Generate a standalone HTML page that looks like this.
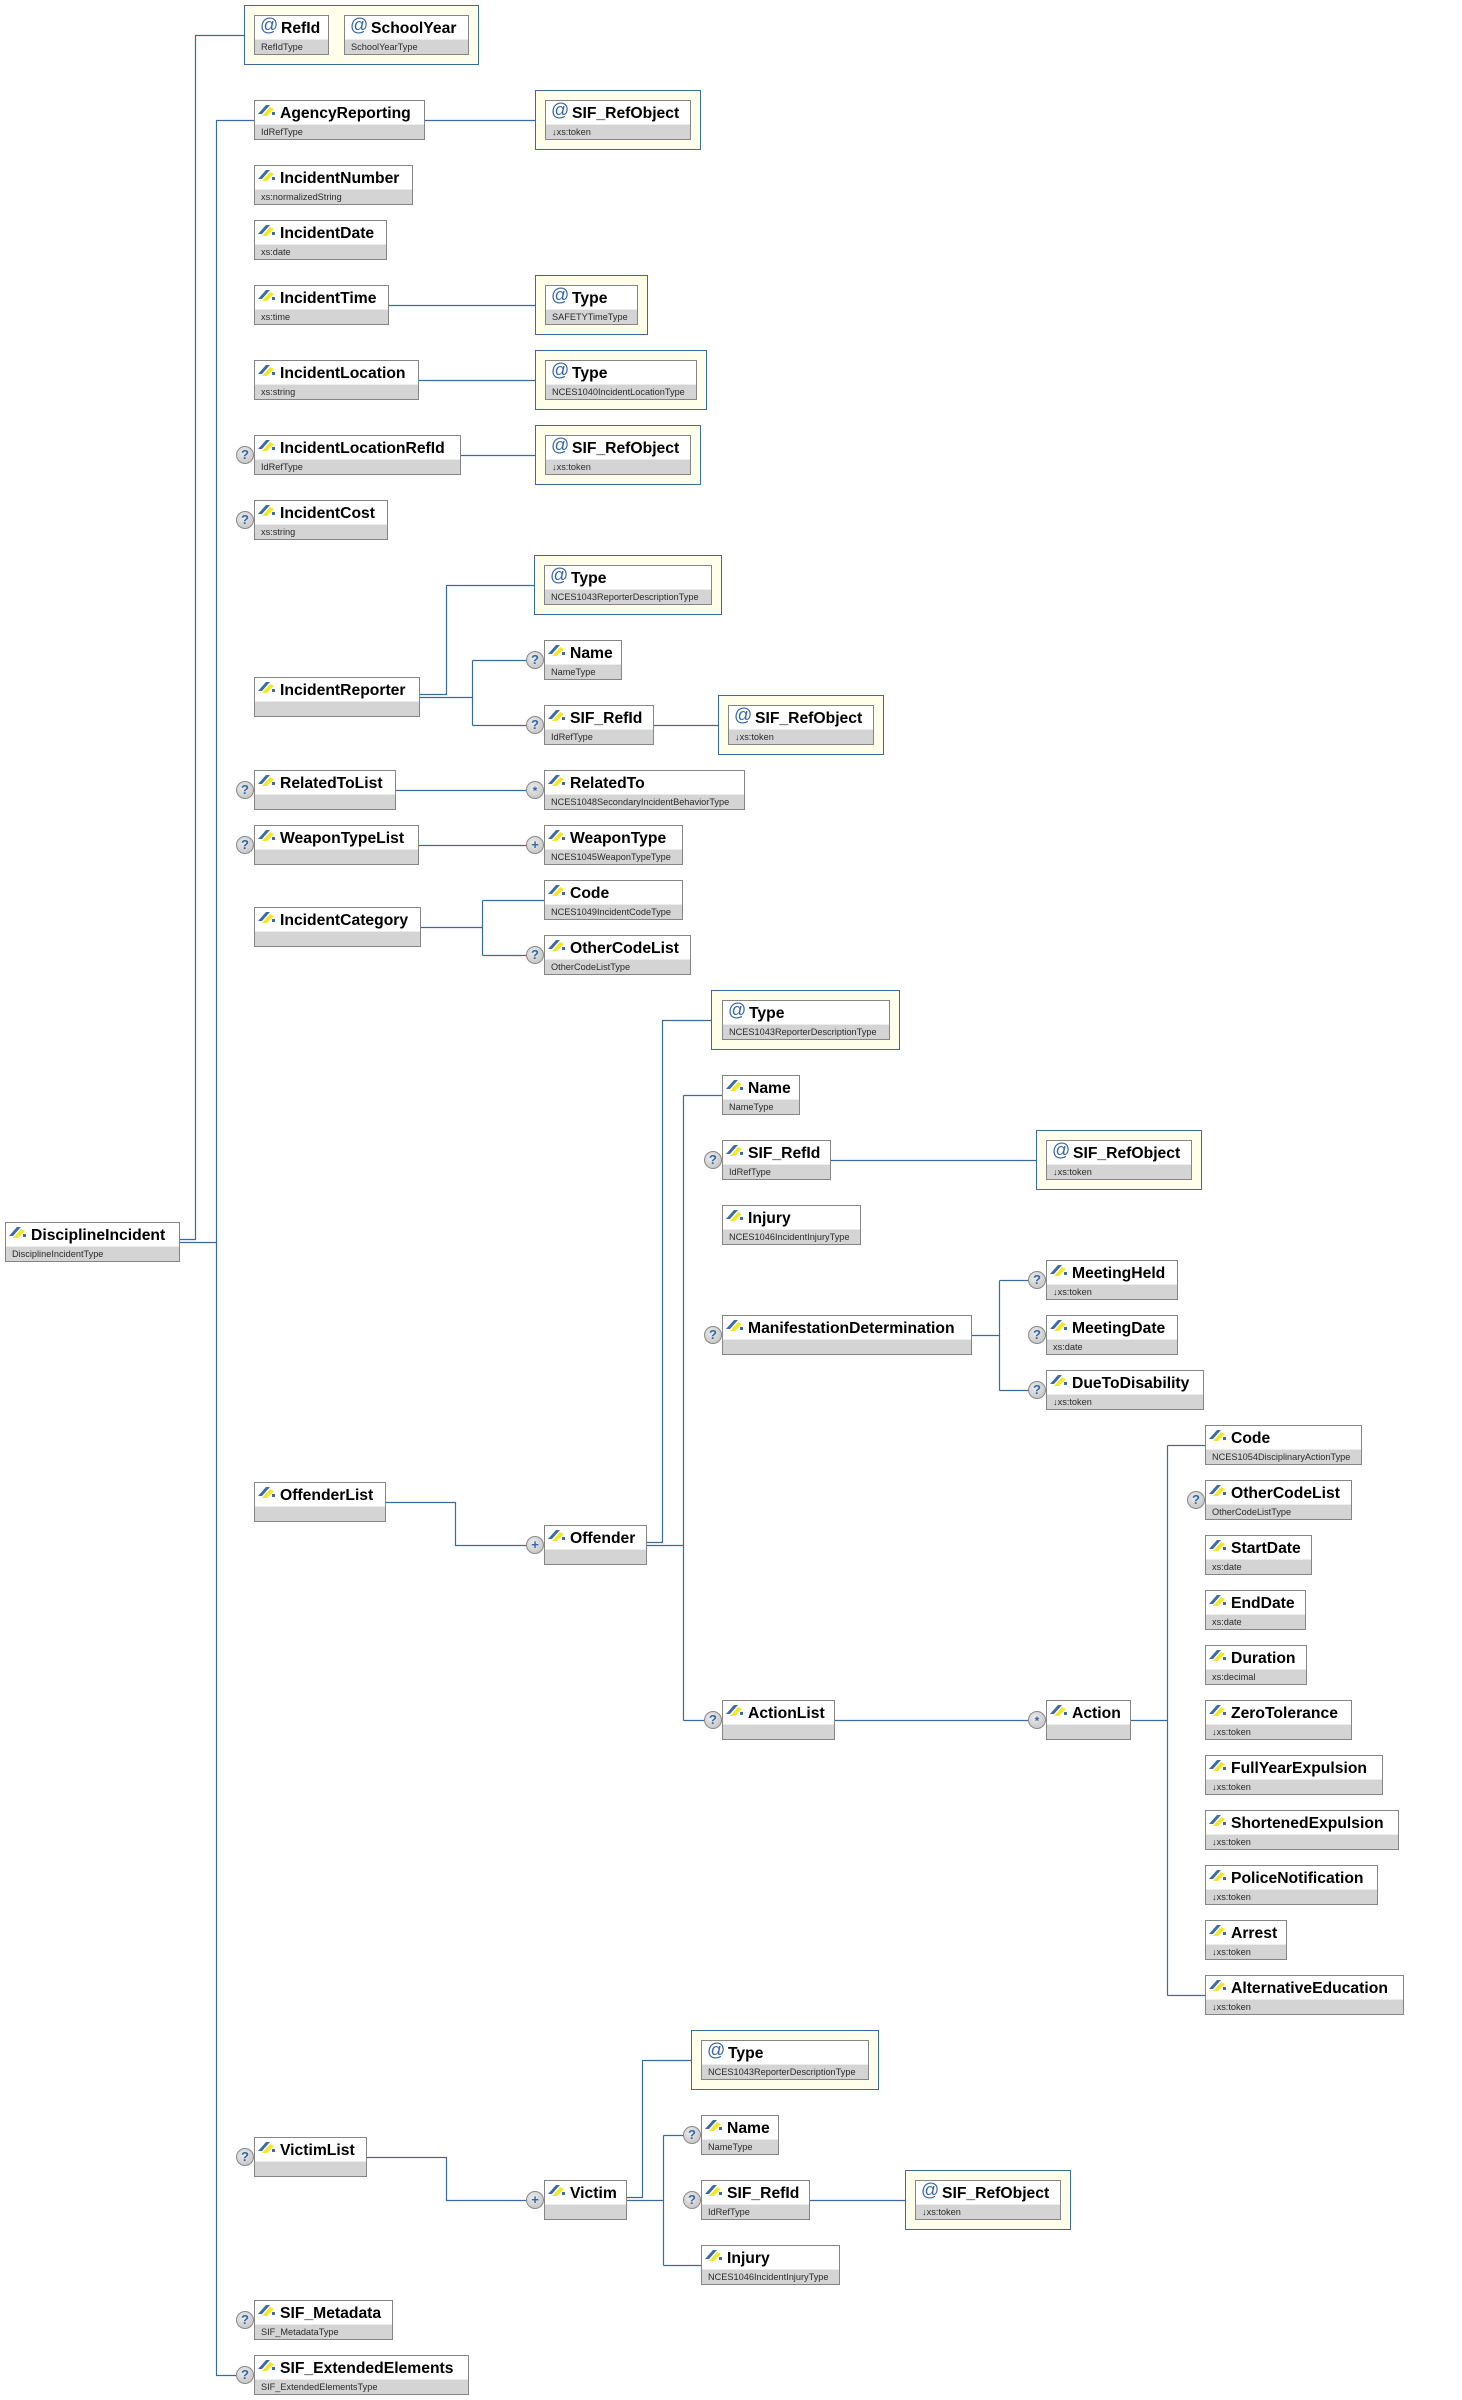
<!DOCTYPE html>
<html><head><meta charset="utf-8"><style>
html,body{margin:0;padding:0;}
body{width:1462px;height:2400px;position:relative;overflow:hidden;background:#fff;font-family:"Liberation Sans",Arial,sans-serif;}
svg.lines{position:absolute;left:0;top:0;z-index:0;}
.g{position:absolute;height:60px;box-sizing:border-box;border:1px solid #3b6a9c;background:#fefeea;z-index:1;}
.b{position:absolute;height:40px;box-sizing:border-box;border:1px solid #858585;background:#d4d4d4;z-index:2;}
.t{position:absolute;left:0;top:0;right:0;height:23px;background:#fff;border-bottom:1px solid #ececec;}
.n{position:absolute;left:25px;top:4px;font-size:15.7px;font-weight:bold;line-height:18px;white-space:nowrap;color:#000;}
.a .n{left:26px;}
.ty{position:absolute;left:6px;top:25px;font-size:9.2px;line-height:12px;color:#2a2a2a;white-space:nowrap;}
.ei{position:absolute;left:3px;top:3px;}
.at{position:absolute;left:5px;top:-1px;font-size:18px;line-height:20px;color:#3566a6;}
.c{position:absolute;width:18px;height:18px;box-sizing:border-box;border:1px solid #8a8a8a;border-radius:50%;background:radial-gradient(circle at 40% 35%,#ececec,#bcbcbc);color:#3566a6;font-weight:bold;font-size:13px;line-height:16px;text-align:center;z-index:3;}
.c.s{font-size:12px;line-height:18px;}
</style></head><body>

<svg class="lines" width="1462" height="2400" viewBox="0 0 1462 2400" fill="none" stroke="#3b6a9c" stroke-width="1.2">
<polyline points="244,35.5 195.5,35.5 195.5,1239.5 180,1239.5"/>
<polyline points="254,120.5 216.5,120.5 216.5,2375.5 236,2375.5"/>
<path d="M180 1242.5H216.5"/>
<path d="M425 120.5H535"/>
<path d="M389 305.5H535"/>
<path d="M419 380.5H535"/>
<path d="M461 455.5H535"/>
<polyline points="420,694.5 446.5,694.5 446.5,585.5 534,585.5"/>
<path d="M420 697.5H472.5M472.5 660.5V725.5M472.5 660.5H527M472.5 725.5H527"/>
<path d="M654 725.5H718"/>
<path d="M396 790.5H526"/>
<path d="M419 845.5H526"/>
<path d="M421 927.5H482.5M482.5 900.5V955.5M482.5 900.5H544M482.5 955.5H526"/>
<polyline points="386,1502.5 455.5,1502.5 455.5,1545.5 526,1545.5"/>
<polyline points="647,1542.5 662.5,1542.5 662.5,1020.5 711,1020.5"/>
<path d="M647 1545.5H683.5M683.5 1095.5V1720.5M683.5 1095.5H722M683.5 1720.5H704"/>
<path d="M831 1160.5H1036"/>
<path d="M972 1335.5H999.5M999.5 1280.5V1390.5M999.5 1280.5H1028M999.5 1390.5H1028"/>
<path d="M835 1720.5H1028"/>
<path d="M1131 1720.5H1167.5M1167.5 1445.5V1995.5M1167.5 1445.5H1205M1167.5 1995.5H1205"/>
<polyline points="367,2157.5 446.5,2157.5 446.5,2200.5 526,2200.5"/>
<polyline points="627,2197.5 642.5,2197.5 642.5,2060.5 691,2060.5"/>
<path d="M627 2200.5H663.5M663.5 2135.5V2265.5M663.5 2135.5H683M663.5 2265.5H701"/>
<path d="M810 2200.5H905"/>
</svg>

<!-- root -->
<div class="b" style="left:5px;top:1222px;width:175px"><div class="t"><svg class="ei" width="18" height="13" viewBox="0 0 18 13"><path d="M4 12L12 3l4 2-7 7z" fill="#f4e62a"/><path d="M0 10L8 1h4L4 10z" fill="#3d6ca3"/><path d="M14 8h3v3h-3z" fill="#3d6ca3"/></svg><span class="n">DisciplineIncident</span></div><span class="ty">DisciplineIncidentType</span></div>

<!-- attributes group -->
<div class="g" style="left:244px;top:5px;width:235px"></div>
<div class="b a" style="left:254px;top:15px;width:75px"><div class="t"><span class="at">@</span><span class="n">RefId</span></div><span class="ty">RefIdType</span></div>
<div class="b a" style="left:344px;top:15px;width:125px"><div class="t"><span class="at">@</span><span class="n">SchoolYear</span></div><span class="ty">SchoolYearType</span></div>

<div class="b" style="left:254px;top:100px;width:171px"><div class="t"><svg class="ei" width="18" height="13" viewBox="0 0 18 13"><path d="M4 12L12 3l4 2-7 7z" fill="#f4e62a"/><path d="M0 10L8 1h4L4 10z" fill="#3d6ca3"/><path d="M14 8h3v3h-3z" fill="#3d6ca3"/></svg><span class="n">AgencyReporting</span></div><span class="ty">IdRefType</span></div>
<div class="g" style="left:535px;top:90px;width:166px"></div>
<div class="b a" style="left:545px;top:100px;width:146px"><div class="t"><span class="at">@</span><span class="n">SIF_RefObject</span></div><span class="ty">↓xs:token</span></div>

<div class="b" style="left:254px;top:165px;width:159px"><div class="t"><svg class="ei" width="18" height="13" viewBox="0 0 18 13"><path d="M4 12L12 3l4 2-7 7z" fill="#f4e62a"/><path d="M0 10L8 1h4L4 10z" fill="#3d6ca3"/><path d="M14 8h3v3h-3z" fill="#3d6ca3"/></svg><span class="n">IncidentNumber</span></div><span class="ty">xs:normalizedString</span></div>

<div class="b" style="left:254px;top:220px;width:133px"><div class="t"><svg class="ei" width="18" height="13" viewBox="0 0 18 13"><path d="M4 12L12 3l4 2-7 7z" fill="#f4e62a"/><path d="M0 10L8 1h4L4 10z" fill="#3d6ca3"/><path d="M14 8h3v3h-3z" fill="#3d6ca3"/></svg><span class="n">IncidentDate</span></div><span class="ty">xs:date</span></div>

<div class="b" style="left:254px;top:285px;width:135px"><div class="t"><svg class="ei" width="18" height="13" viewBox="0 0 18 13"><path d="M4 12L12 3l4 2-7 7z" fill="#f4e62a"/><path d="M0 10L8 1h4L4 10z" fill="#3d6ca3"/><path d="M14 8h3v3h-3z" fill="#3d6ca3"/></svg><span class="n">IncidentTime</span></div><span class="ty">xs:time</span></div>
<div class="g" style="left:535px;top:275px;width:113px"></div>
<div class="b a" style="left:545px;top:285px;width:93px"><div class="t"><span class="at">@</span><span class="n">Type</span></div><span class="ty">SAFETYTimeType</span></div>

<div class="b" style="left:254px;top:360px;width:165px"><div class="t"><svg class="ei" width="18" height="13" viewBox="0 0 18 13"><path d="M4 12L12 3l4 2-7 7z" fill="#f4e62a"/><path d="M0 10L8 1h4L4 10z" fill="#3d6ca3"/><path d="M14 8h3v3h-3z" fill="#3d6ca3"/></svg><span class="n">IncidentLocation</span></div><span class="ty">xs:string</span></div>
<div class="g" style="left:535px;top:350px;width:172px"></div>
<div class="b a" style="left:545px;top:360px;width:152px"><div class="t"><span class="at">@</span><span class="n">Type</span></div><span class="ty">NCES1040IncidentLocationType</span></div>

<div class="b" style="left:254px;top:435px;width:207px"><div class="t"><svg class="ei" width="18" height="13" viewBox="0 0 18 13"><path d="M4 12L12 3l4 2-7 7z" fill="#f4e62a"/><path d="M0 10L8 1h4L4 10z" fill="#3d6ca3"/><path d="M14 8h3v3h-3z" fill="#3d6ca3"/></svg><span class="n">IncidentLocationRefId</span></div><span class="ty">IdRefType</span></div>
<div class="c" style="left:236px;top:446px">?</div>
<div class="g" style="left:535px;top:425px;width:166px"></div>
<div class="b a" style="left:545px;top:435px;width:146px"><div class="t"><span class="at">@</span><span class="n">SIF_RefObject</span></div><span class="ty">↓xs:token</span></div>

<div class="b" style="left:254px;top:500px;width:134px"><div class="t"><svg class="ei" width="18" height="13" viewBox="0 0 18 13"><path d="M4 12L12 3l4 2-7 7z" fill="#f4e62a"/><path d="M0 10L8 1h4L4 10z" fill="#3d6ca3"/><path d="M14 8h3v3h-3z" fill="#3d6ca3"/></svg><span class="n">IncidentCost</span></div><span class="ty">xs:string</span></div>
<div class="c" style="left:236px;top:511px">?</div>

<!-- IncidentReporter -->
<div class="b" style="left:254px;top:677px;width:166px"><div class="t"><svg class="ei" width="18" height="13" viewBox="0 0 18 13"><path d="M4 12L12 3l4 2-7 7z" fill="#f4e62a"/><path d="M0 10L8 1h4L4 10z" fill="#3d6ca3"/><path d="M14 8h3v3h-3z" fill="#3d6ca3"/></svg><span class="n">IncidentReporter</span></div><span class="ty"></span></div>
<div class="g" style="left:534px;top:555px;width:188px"></div>
<div class="b a" style="left:544px;top:565px;width:168px"><div class="t"><span class="at">@</span><span class="n">Type</span></div><span class="ty">NCES1043ReporterDescriptionType</span></div>
<div class="b" style="left:544px;top:640px;width:78px"><div class="t"><svg class="ei" width="18" height="13" viewBox="0 0 18 13"><path d="M4 12L12 3l4 2-7 7z" fill="#f4e62a"/><path d="M0 10L8 1h4L4 10z" fill="#3d6ca3"/><path d="M14 8h3v3h-3z" fill="#3d6ca3"/></svg><span class="n">Name</span></div><span class="ty">NameType</span></div>
<div class="c" style="left:526px;top:651px">?</div>
<div class="b" style="left:544px;top:705px;width:110px"><div class="t"><svg class="ei" width="18" height="13" viewBox="0 0 18 13"><path d="M4 12L12 3l4 2-7 7z" fill="#f4e62a"/><path d="M0 10L8 1h4L4 10z" fill="#3d6ca3"/><path d="M14 8h3v3h-3z" fill="#3d6ca3"/></svg><span class="n">SIF_RefId</span></div><span class="ty">IdRefType</span></div>
<div class="c" style="left:526px;top:716px">?</div>
<div class="g" style="left:718px;top:695px;width:166px"></div>
<div class="b a" style="left:728px;top:705px;width:146px"><div class="t"><span class="at">@</span><span class="n">SIF_RefObject</span></div><span class="ty">↓xs:token</span></div>

<!-- RelatedToList -->
<div class="b" style="left:254px;top:770px;width:142px"><div class="t"><svg class="ei" width="18" height="13" viewBox="0 0 18 13"><path d="M4 12L12 3l4 2-7 7z" fill="#f4e62a"/><path d="M0 10L8 1h4L4 10z" fill="#3d6ca3"/><path d="M14 8h3v3h-3z" fill="#3d6ca3"/></svg><span class="n">RelatedToList</span></div><span class="ty"></span></div>
<div class="c" style="left:236px;top:781px">?</div>
<div class="b" style="left:544px;top:770px;width:201px"><div class="t"><svg class="ei" width="18" height="13" viewBox="0 0 18 13"><path d="M4 12L12 3l4 2-7 7z" fill="#f4e62a"/><path d="M0 10L8 1h4L4 10z" fill="#3d6ca3"/><path d="M14 8h3v3h-3z" fill="#3d6ca3"/></svg><span class="n">RelatedTo</span></div><span class="ty">NCES1048SecondaryIncidentBehaviorType</span></div>
<div class="c s" style="left:526px;top:781px">*</div>

<!-- WeaponTypeList -->
<div class="b" style="left:254px;top:825px;width:165px"><div class="t"><svg class="ei" width="18" height="13" viewBox="0 0 18 13"><path d="M4 12L12 3l4 2-7 7z" fill="#f4e62a"/><path d="M0 10L8 1h4L4 10z" fill="#3d6ca3"/><path d="M14 8h3v3h-3z" fill="#3d6ca3"/></svg><span class="n">WeaponTypeList</span></div><span class="ty"></span></div>
<div class="c" style="left:236px;top:836px">?</div>
<div class="b" style="left:544px;top:825px;width:139px"><div class="t"><svg class="ei" width="18" height="13" viewBox="0 0 18 13"><path d="M4 12L12 3l4 2-7 7z" fill="#f4e62a"/><path d="M0 10L8 1h4L4 10z" fill="#3d6ca3"/><path d="M14 8h3v3h-3z" fill="#3d6ca3"/></svg><span class="n">WeaponType</span></div><span class="ty">NCES1045WeaponTypeType</span></div>
<div class="c" style="left:526px;top:836px">+</div>

<!-- IncidentCategory -->
<div class="b" style="left:254px;top:907px;width:167px"><div class="t"><svg class="ei" width="18" height="13" viewBox="0 0 18 13"><path d="M4 12L12 3l4 2-7 7z" fill="#f4e62a"/><path d="M0 10L8 1h4L4 10z" fill="#3d6ca3"/><path d="M14 8h3v3h-3z" fill="#3d6ca3"/></svg><span class="n">IncidentCategory</span></div><span class="ty"></span></div>
<div class="b" style="left:544px;top:880px;width:139px"><div class="t"><svg class="ei" width="18" height="13" viewBox="0 0 18 13"><path d="M4 12L12 3l4 2-7 7z" fill="#f4e62a"/><path d="M0 10L8 1h4L4 10z" fill="#3d6ca3"/><path d="M14 8h3v3h-3z" fill="#3d6ca3"/></svg><span class="n">Code</span></div><span class="ty">NCES1049IncidentCodeType</span></div>
<div class="b" style="left:544px;top:935px;width:147px"><div class="t"><svg class="ei" width="18" height="13" viewBox="0 0 18 13"><path d="M4 12L12 3l4 2-7 7z" fill="#f4e62a"/><path d="M0 10L8 1h4L4 10z" fill="#3d6ca3"/><path d="M14 8h3v3h-3z" fill="#3d6ca3"/></svg><span class="n">OtherCodeList</span></div><span class="ty">OtherCodeListType</span></div>
<div class="c" style="left:526px;top:946px">?</div>

<!-- OffenderList -->
<div class="b" style="left:254px;top:1482px;width:132px"><div class="t"><svg class="ei" width="18" height="13" viewBox="0 0 18 13"><path d="M4 12L12 3l4 2-7 7z" fill="#f4e62a"/><path d="M0 10L8 1h4L4 10z" fill="#3d6ca3"/><path d="M14 8h3v3h-3z" fill="#3d6ca3"/></svg><span class="n">OffenderList</span></div><span class="ty"></span></div>
<div class="b" style="left:544px;top:1525px;width:103px"><div class="t"><svg class="ei" width="18" height="13" viewBox="0 0 18 13"><path d="M4 12L12 3l4 2-7 7z" fill="#f4e62a"/><path d="M0 10L8 1h4L4 10z" fill="#3d6ca3"/><path d="M14 8h3v3h-3z" fill="#3d6ca3"/></svg><span class="n">Offender</span></div><span class="ty"></span></div>
<div class="c" style="left:526px;top:1536px">+</div>

<div class="g" style="left:711px;top:990px;width:189px"></div>
<div class="b a" style="left:722px;top:1000px;width:168px"><div class="t"><span class="at">@</span><span class="n">Type</span></div><span class="ty">NCES1043ReporterDescriptionType</span></div>
<div class="b" style="left:722px;top:1075px;width:78px"><div class="t"><svg class="ei" width="18" height="13" viewBox="0 0 18 13"><path d="M4 12L12 3l4 2-7 7z" fill="#f4e62a"/><path d="M0 10L8 1h4L4 10z" fill="#3d6ca3"/><path d="M14 8h3v3h-3z" fill="#3d6ca3"/></svg><span class="n">Name</span></div><span class="ty">NameType</span></div>
<div class="b" style="left:722px;top:1140px;width:109px"><div class="t"><svg class="ei" width="18" height="13" viewBox="0 0 18 13"><path d="M4 12L12 3l4 2-7 7z" fill="#f4e62a"/><path d="M0 10L8 1h4L4 10z" fill="#3d6ca3"/><path d="M14 8h3v3h-3z" fill="#3d6ca3"/></svg><span class="n">SIF_RefId</span></div><span class="ty">IdRefType</span></div>
<div class="c" style="left:704px;top:1151px">?</div>
<div class="g" style="left:1036px;top:1130px;width:166px"></div>
<div class="b a" style="left:1046px;top:1140px;width:146px"><div class="t"><span class="at">@</span><span class="n">SIF_RefObject</span></div><span class="ty">↓xs:token</span></div>
<div class="b" style="left:722px;top:1205px;width:139px"><div class="t"><svg class="ei" width="18" height="13" viewBox="0 0 18 13"><path d="M4 12L12 3l4 2-7 7z" fill="#f4e62a"/><path d="M0 10L8 1h4L4 10z" fill="#3d6ca3"/><path d="M14 8h3v3h-3z" fill="#3d6ca3"/></svg><span class="n">Injury</span></div><span class="ty">NCES1046IncidentInjuryType</span></div>

<div class="b" style="left:722px;top:1315px;width:250px"><div class="t"><svg class="ei" width="18" height="13" viewBox="0 0 18 13"><path d="M4 12L12 3l4 2-7 7z" fill="#f4e62a"/><path d="M0 10L8 1h4L4 10z" fill="#3d6ca3"/><path d="M14 8h3v3h-3z" fill="#3d6ca3"/></svg><span class="n">ManifestationDetermination</span></div><span class="ty"></span></div>
<div class="c" style="left:704px;top:1326px">?</div>
<div class="b" style="left:1046px;top:1260px;width:132px"><div class="t"><svg class="ei" width="18" height="13" viewBox="0 0 18 13"><path d="M4 12L12 3l4 2-7 7z" fill="#f4e62a"/><path d="M0 10L8 1h4L4 10z" fill="#3d6ca3"/><path d="M14 8h3v3h-3z" fill="#3d6ca3"/></svg><span class="n">MeetingHeld</span></div><span class="ty">↓xs:token</span></div>
<div class="c" style="left:1028px;top:1271px">?</div>
<div class="b" style="left:1046px;top:1315px;width:132px"><div class="t"><svg class="ei" width="18" height="13" viewBox="0 0 18 13"><path d="M4 12L12 3l4 2-7 7z" fill="#f4e62a"/><path d="M0 10L8 1h4L4 10z" fill="#3d6ca3"/><path d="M14 8h3v3h-3z" fill="#3d6ca3"/></svg><span class="n">MeetingDate</span></div><span class="ty">xs:date</span></div>
<div class="c" style="left:1028px;top:1326px">?</div>
<div class="b" style="left:1046px;top:1370px;width:158px"><div class="t"><svg class="ei" width="18" height="13" viewBox="0 0 18 13"><path d="M4 12L12 3l4 2-7 7z" fill="#f4e62a"/><path d="M0 10L8 1h4L4 10z" fill="#3d6ca3"/><path d="M14 8h3v3h-3z" fill="#3d6ca3"/></svg><span class="n">DueToDisability</span></div><span class="ty">↓xs:token</span></div>
<div class="c" style="left:1028px;top:1381px">?</div>

<div class="b" style="left:722px;top:1700px;width:113px"><div class="t"><svg class="ei" width="18" height="13" viewBox="0 0 18 13"><path d="M4 12L12 3l4 2-7 7z" fill="#f4e62a"/><path d="M0 10L8 1h4L4 10z" fill="#3d6ca3"/><path d="M14 8h3v3h-3z" fill="#3d6ca3"/></svg><span class="n">ActionList</span></div><span class="ty"></span></div>
<div class="c" style="left:704px;top:1711px">?</div>
<div class="b" style="left:1046px;top:1700px;width:85px"><div class="t"><svg class="ei" width="18" height="13" viewBox="0 0 18 13"><path d="M4 12L12 3l4 2-7 7z" fill="#f4e62a"/><path d="M0 10L8 1h4L4 10z" fill="#3d6ca3"/><path d="M14 8h3v3h-3z" fill="#3d6ca3"/></svg><span class="n">Action</span></div><span class="ty"></span></div>
<div class="c s" style="left:1028px;top:1711px">*</div>

<!-- Action children -->
<div class="b" style="left:1205px;top:1425px;width:157px"><div class="t"><svg class="ei" width="18" height="13" viewBox="0 0 18 13"><path d="M4 12L12 3l4 2-7 7z" fill="#f4e62a"/><path d="M0 10L8 1h4L4 10z" fill="#3d6ca3"/><path d="M14 8h3v3h-3z" fill="#3d6ca3"/></svg><span class="n">Code</span></div><span class="ty">NCES1054DisciplinaryActionType</span></div>
<div class="b" style="left:1205px;top:1480px;width:147px"><div class="t"><svg class="ei" width="18" height="13" viewBox="0 0 18 13"><path d="M4 12L12 3l4 2-7 7z" fill="#f4e62a"/><path d="M0 10L8 1h4L4 10z" fill="#3d6ca3"/><path d="M14 8h3v3h-3z" fill="#3d6ca3"/></svg><span class="n">OtherCodeList</span></div><span class="ty">OtherCodeListType</span></div>
<div class="c" style="left:1187px;top:1491px">?</div>
<div class="b" style="left:1205px;top:1535px;width:107px"><div class="t"><svg class="ei" width="18" height="13" viewBox="0 0 18 13"><path d="M4 12L12 3l4 2-7 7z" fill="#f4e62a"/><path d="M0 10L8 1h4L4 10z" fill="#3d6ca3"/><path d="M14 8h3v3h-3z" fill="#3d6ca3"/></svg><span class="n">StartDate</span></div><span class="ty">xs:date</span></div>
<div class="b" style="left:1205px;top:1590px;width:101px"><div class="t"><svg class="ei" width="18" height="13" viewBox="0 0 18 13"><path d="M4 12L12 3l4 2-7 7z" fill="#f4e62a"/><path d="M0 10L8 1h4L4 10z" fill="#3d6ca3"/><path d="M14 8h3v3h-3z" fill="#3d6ca3"/></svg><span class="n">EndDate</span></div><span class="ty">xs:date</span></div>
<div class="b" style="left:1205px;top:1645px;width:102px"><div class="t"><svg class="ei" width="18" height="13" viewBox="0 0 18 13"><path d="M4 12L12 3l4 2-7 7z" fill="#f4e62a"/><path d="M0 10L8 1h4L4 10z" fill="#3d6ca3"/><path d="M14 8h3v3h-3z" fill="#3d6ca3"/></svg><span class="n">Duration</span></div><span class="ty">xs:decimal</span></div>
<div class="b" style="left:1205px;top:1700px;width:147px"><div class="t"><svg class="ei" width="18" height="13" viewBox="0 0 18 13"><path d="M4 12L12 3l4 2-7 7z" fill="#f4e62a"/><path d="M0 10L8 1h4L4 10z" fill="#3d6ca3"/><path d="M14 8h3v3h-3z" fill="#3d6ca3"/></svg><span class="n">ZeroTolerance</span></div><span class="ty">↓xs:token</span></div>
<div class="b" style="left:1205px;top:1755px;width:178px"><div class="t"><svg class="ei" width="18" height="13" viewBox="0 0 18 13"><path d="M4 12L12 3l4 2-7 7z" fill="#f4e62a"/><path d="M0 10L8 1h4L4 10z" fill="#3d6ca3"/><path d="M14 8h3v3h-3z" fill="#3d6ca3"/></svg><span class="n">FullYearExpulsion</span></div><span class="ty">↓xs:token</span></div>
<div class="b" style="left:1205px;top:1810px;width:194px"><div class="t"><svg class="ei" width="18" height="13" viewBox="0 0 18 13"><path d="M4 12L12 3l4 2-7 7z" fill="#f4e62a"/><path d="M0 10L8 1h4L4 10z" fill="#3d6ca3"/><path d="M14 8h3v3h-3z" fill="#3d6ca3"/></svg><span class="n">ShortenedExpulsion</span></div><span class="ty">↓xs:token</span></div>
<div class="b" style="left:1205px;top:1865px;width:173px"><div class="t"><svg class="ei" width="18" height="13" viewBox="0 0 18 13"><path d="M4 12L12 3l4 2-7 7z" fill="#f4e62a"/><path d="M0 10L8 1h4L4 10z" fill="#3d6ca3"/><path d="M14 8h3v3h-3z" fill="#3d6ca3"/></svg><span class="n">PoliceNotification</span></div><span class="ty">↓xs:token</span></div>
<div class="b" style="left:1205px;top:1920px;width:82px"><div class="t"><svg class="ei" width="18" height="13" viewBox="0 0 18 13"><path d="M4 12L12 3l4 2-7 7z" fill="#f4e62a"/><path d="M0 10L8 1h4L4 10z" fill="#3d6ca3"/><path d="M14 8h3v3h-3z" fill="#3d6ca3"/></svg><span class="n">Arrest</span></div><span class="ty">↓xs:token</span></div>
<div class="b" style="left:1205px;top:1975px;width:199px"><div class="t"><svg class="ei" width="18" height="13" viewBox="0 0 18 13"><path d="M4 12L12 3l4 2-7 7z" fill="#f4e62a"/><path d="M0 10L8 1h4L4 10z" fill="#3d6ca3"/><path d="M14 8h3v3h-3z" fill="#3d6ca3"/></svg><span class="n">AlternativeEducation</span></div><span class="ty">↓xs:token</span></div>

<!-- VictimList -->
<div class="b" style="left:254px;top:2137px;width:113px"><div class="t"><svg class="ei" width="18" height="13" viewBox="0 0 18 13"><path d="M4 12L12 3l4 2-7 7z" fill="#f4e62a"/><path d="M0 10L8 1h4L4 10z" fill="#3d6ca3"/><path d="M14 8h3v3h-3z" fill="#3d6ca3"/></svg><span class="n">VictimList</span></div><span class="ty"></span></div>
<div class="c" style="left:236px;top:2148px">?</div>
<div class="b" style="left:544px;top:2180px;width:83px"><div class="t"><svg class="ei" width="18" height="13" viewBox="0 0 18 13"><path d="M4 12L12 3l4 2-7 7z" fill="#f4e62a"/><path d="M0 10L8 1h4L4 10z" fill="#3d6ca3"/><path d="M14 8h3v3h-3z" fill="#3d6ca3"/></svg><span class="n">Victim</span></div><span class="ty"></span></div>
<div class="c" style="left:526px;top:2191px">+</div>
<div class="g" style="left:691px;top:2030px;width:188px"></div>
<div class="b a" style="left:701px;top:2040px;width:168px"><div class="t"><span class="at">@</span><span class="n">Type</span></div><span class="ty">NCES1043ReporterDescriptionType</span></div>
<div class="b" style="left:701px;top:2115px;width:78px"><div class="t"><svg class="ei" width="18" height="13" viewBox="0 0 18 13"><path d="M4 12L12 3l4 2-7 7z" fill="#f4e62a"/><path d="M0 10L8 1h4L4 10z" fill="#3d6ca3"/><path d="M14 8h3v3h-3z" fill="#3d6ca3"/></svg><span class="n">Name</span></div><span class="ty">NameType</span></div>
<div class="c" style="left:683px;top:2126px">?</div>
<div class="b" style="left:701px;top:2180px;width:109px"><div class="t"><svg class="ei" width="18" height="13" viewBox="0 0 18 13"><path d="M4 12L12 3l4 2-7 7z" fill="#f4e62a"/><path d="M0 10L8 1h4L4 10z" fill="#3d6ca3"/><path d="M14 8h3v3h-3z" fill="#3d6ca3"/></svg><span class="n">SIF_RefId</span></div><span class="ty">IdRefType</span></div>
<div class="c" style="left:683px;top:2191px">?</div>
<div class="g" style="left:905px;top:2170px;width:166px"></div>
<div class="b a" style="left:915px;top:2180px;width:146px"><div class="t"><span class="at">@</span><span class="n">SIF_RefObject</span></div><span class="ty">↓xs:token</span></div>
<div class="b" style="left:701px;top:2245px;width:139px"><div class="t"><svg class="ei" width="18" height="13" viewBox="0 0 18 13"><path d="M4 12L12 3l4 2-7 7z" fill="#f4e62a"/><path d="M0 10L8 1h4L4 10z" fill="#3d6ca3"/><path d="M14 8h3v3h-3z" fill="#3d6ca3"/></svg><span class="n">Injury</span></div><span class="ty">NCES1046IncidentInjuryType</span></div>

<!-- bottom -->
<div class="b" style="left:254px;top:2300px;width:139px"><div class="t"><svg class="ei" width="18" height="13" viewBox="0 0 18 13"><path d="M4 12L12 3l4 2-7 7z" fill="#f4e62a"/><path d="M0 10L8 1h4L4 10z" fill="#3d6ca3"/><path d="M14 8h3v3h-3z" fill="#3d6ca3"/></svg><span class="n">SIF_Metadata</span></div><span class="ty">SIF_MetadataType</span></div>
<div class="c" style="left:236px;top:2311px">?</div>
<div class="b" style="left:254px;top:2355px;width:215px"><div class="t"><svg class="ei" width="18" height="13" viewBox="0 0 18 13"><path d="M4 12L12 3l4 2-7 7z" fill="#f4e62a"/><path d="M0 10L8 1h4L4 10z" fill="#3d6ca3"/><path d="M14 8h3v3h-3z" fill="#3d6ca3"/></svg><span class="n">SIF_ExtendedElements</span></div><span class="ty">SIF_ExtendedElementsType</span></div>
<div class="c" style="left:236px;top:2366px">?</div>

</body></html>
